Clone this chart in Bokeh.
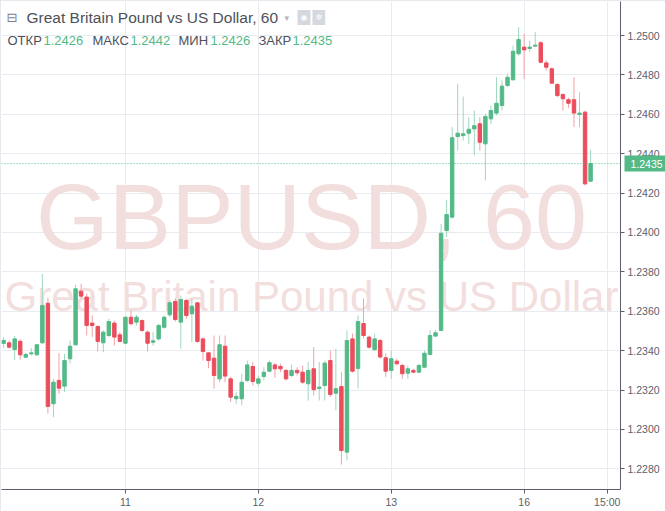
from bokeh.plotting import figure
from bokeh.models import (ColumnDataSource, FixedTicker, Label, Span, NumeralTickFormatter,
                          Range1d, LinearAxis)
from bokeh.embed import file_html
from bokeh.resources import INLINE

# ---------------- data (GBPUSD, 60 min) ----------------
bars = list(range(-22, 85))  # hourly bar index, 0 = day "11" 00:00

opens = [1.23437, 1.23440, 1.23406, 1.23448, 1.23367, 1.23384, 1.23379, 1.23440, 1.23641, 1.23131,
         1.23249, 1.23220, 1.23359, 1.23430, 1.23702, 1.23672, 1.23540, 1.23523, 1.23440, 1.23477,
         1.23540, 1.23481, 1.23438, 1.23570, 1.23545, 1.23553, 1.23494, 1.23443, 1.23460, 1.23519,
         1.23582, 1.23650, 1.23545, 1.23655, 1.23587, 1.23643, 1.23460, 1.23389, 1.23362, 1.23257,
         1.23423, 1.23257, 1.23156, 1.23156, 1.23249, 1.23320, 1.23235, 1.23269, 1.23296, 1.23328,
         1.23320, 1.23300, 1.23274, 1.23300, 1.23291, 1.23232, 1.23308, 1.23208, 1.23223, 1.23350,
         1.23184, 1.23218, 1.22885, 1.23460, 1.23310, 1.23538, 1.23469, 1.23405, 1.23452, 1.23364,
         1.23300, 1.23347, 1.23325, 1.23286, 1.23300, 1.23291, 1.23316, 1.23381, 1.23474, 1.23503,
         1.24010, 1.24078, 1.24487, 1.24492, 1.24504, 1.24526, 1.24552, 1.24450, 1.24577, 1.24606,
         1.24645, 1.24746, 1.24775, 1.24907, 1.24941, 1.24934, 1.24946, 1.24963, 1.24861, 1.24831,
         1.24751, 1.24700, 1.24674, 1.24674, 1.24599, 1.24611, 1.24260]
highs = [1.23469, 1.23452, 1.23474, 1.23457, 1.23389, 1.23413, 1.23435, 1.23790, 1.23669, 1.23257,
         1.23387, 1.23384, 1.23452, 1.23735, 1.23740, 1.23689, 1.23579, 1.23528, 1.23503, 1.23562,
         1.23553, 1.23494, 1.23575, 1.23604, 1.23582, 1.23558, 1.23503, 1.23494, 1.23537, 1.23579,
         1.23655, 1.23667, 1.23680, 1.23664, 1.23664, 1.23646, 1.23469, 1.23392, 1.23477, 1.23477,
         1.23477, 1.23266, 1.23189, 1.23283, 1.23350, 1.23342, 1.23274, 1.23316, 1.23350, 1.23337,
         1.23334, 1.23308, 1.23330, 1.23316, 1.23325, 1.23342, 1.23418, 1.23342, 1.23350, 1.23401,
         1.23410, 1.23291, 1.23503, 1.23487, 1.23579, 1.23665, 1.23477, 1.23486, 1.23460, 1.23386,
         1.23401, 1.23359, 1.23334, 1.23325, 1.23308, 1.23334, 1.23401, 1.23503, 1.23506, 1.24044,
         1.24166, 1.24535, 1.24755, 1.24690, 1.24585, 1.24619, 1.24585, 1.24603, 1.24645, 1.24788,
         1.24772, 1.24806, 1.24949, 1.25042, 1.25009, 1.24975, 1.25017, 1.24971, 1.24873, 1.24839,
         1.24758, 1.24707, 1.24684, 1.24788, 1.24712, 1.24619, 1.24420]
lows = [1.23413, 1.23411, 1.23354, 1.23355, 1.23362, 1.23376, 1.23376, 1.23435, 1.23080, 1.23062,
        1.23181, 1.23189, 1.23334, 1.23426, 1.23664, 1.23477, 1.23469, 1.23396, 1.23392, 1.23469,
        1.23426, 1.23443, 1.23433, 1.23528, 1.23528, 1.23494, 1.23396, 1.23426, 1.23452, 1.23511,
        1.23570, 1.23548, 1.23410, 1.23562, 1.23443, 1.23440, 1.23350, 1.23311, 1.23207, 1.23240,
        1.23240, 1.23139, 1.23131, 1.23122, 1.23240, 1.23223, 1.23218, 1.23249, 1.23291, 1.23262,
        1.23291, 1.23249, 1.23266, 1.23274, 1.23232, 1.23147, 1.23173, 1.23147, 1.23147, 1.23164,
        1.23097, 1.22822, 1.22843, 1.23289, 1.23208, 1.23462, 1.23410, 1.23401, 1.23359, 1.23266,
        1.23257, 1.23325, 1.23257, 1.23257, 1.23286, 1.23286, 1.23316, 1.23376, 1.23469, 1.23499,
        1.23976, 1.24071, 1.24416, 1.24467, 1.24450, 1.24391, 1.24416, 1.24264, 1.24552, 1.24594,
        1.24619, 1.24738, 1.24772, 1.24898, 1.24780, 1.24915, 1.24941, 1.24859, 1.24822, 1.24755,
        1.24687, 1.24619, 1.24633, 1.24535, 1.24535, 1.24239, 1.24260]
closes = [1.23452, 1.23418, 1.23460, 1.23379, 1.23381, 1.23389, 1.23430, 1.23629, 1.23117, 1.23240,
          1.23210, 1.23350, 1.23423, 1.23714, 1.23677, 1.23528, 1.23528, 1.23447, 1.23494, 1.23548,
          1.23469, 1.23447, 1.23570, 1.23537, 1.23570, 1.23503, 1.23438, 1.23450, 1.23528, 1.23570,
          1.23643, 1.23558, 1.23660, 1.23579, 1.23626, 1.23447, 1.23396, 1.23350, 1.23274, 1.23430,
          1.23271, 1.23164, 1.23168, 1.23240, 1.23328, 1.23244, 1.23257, 1.23291, 1.23339, 1.23308,
          1.23308, 1.23257, 1.23300, 1.23288, 1.23240, 1.23300, 1.23202, 1.23215, 1.23337, 1.23178,
          1.23207, 1.22893, 1.23452, 1.23296, 1.23548, 1.23477, 1.23418, 1.23460, 1.23368, 1.23296,
          1.23359, 1.23334, 1.23283, 1.23308, 1.23291, 1.23325, 1.23387, 1.23477, 1.23491, 1.23996,
          1.24091, 1.24481, 1.24504, 1.24501, 1.24524, 1.24542, 1.24458, 1.24589, 1.24619, 1.24656,
          1.24743, 1.24788, 1.24920, 1.24980, 1.24927, 1.24941, 1.24951, 1.24864, 1.24839, 1.24758,
          1.24695, 1.24679, 1.24656, 1.24606, 1.24606, 1.24247, 1.24350]

day_ticks = [0, 24, 48, 72, 87]
day_labels = ["11", "12", "13", "16", "15:00"]
price_ticks = [1.228, 1.230, 1.232, 1.234, 1.236, 1.238, 1.240, 1.242, 1.244, 1.246, 1.248, 1.250]

symbol = "GBPUSD"
interval = "60"
description = "Great Britain Pound vs US Dollar"
ohlc_names = ["ОТКР", "МАКС", "МИН", "ЗАКР"]

# ---------------- styling ----------------
UP, DOWN = "#53b987", "#eb4d5c"
UP_WICK, DOWN_WICK = "#9fd8bd", "#f2a0a8"
TXT = "#4e5159"
AX = "#5d606b"
WM = "#f3dede"
FONT = "Liberation Sans"

W, H = 665, 511
RB, BB = 44, 22
FW, FH = W - 1 - RB, H - 1 - BB   # frame 620 x 488

up = [c >= o for o, c in zip(opens, closes)]
src = ColumnDataSource(dict(
    x=bars,
    top=[max(o, c) for o, c in zip(opens, closes)],
    bottom=[min(o, c) for o, c in zip(opens, closes)],
    high=highs, low=lows,
    color=[UP if u else DOWN for u in up],
    wick=[UP_WICK if u else DOWN_WICK for u in up],
))

p = figure(width=W, height=H, output_backend="svg", toolbar_location=None,
           x_range=Range1d(-22.38, 89.4), y_range=Range1d(1.226954, 1.251726),
           y_axis_location="right", min_border_left=1, min_border_top=1,
           min_border_right=RB, min_border_bottom=BB)
p.background_fill_color = "white"
p.border_fill_color = "white"
p.outline_line_color = None
p.styles = {"outline": "1px solid #dfe2e8", "outline-offset": "-1px"}

# watermark
p.add_layout(Label(x=FW / 2, y=FH - 215, x_units="screen", y_units="screen",
                   text=f"{symbol}, {interval}", text_align="center", text_baseline="middle",
                   text_font=FONT, text_font_size="93.5px", text_color=WM, level="underlay"))
p.add_layout(Label(x=FW / 2, y=FH - 295, x_units="screen", y_units="screen",
                   text=description, text_align="center", text_baseline="middle",
                   text_font=FONT, text_font_size="42px", text_color=WM, level="underlay"))

# candles
p.segment(x0="x", y0="high", x1="x", y1="low", line_color="wick", line_width=1, source=src)
p.vbar(x="x", width=0.62, top="top", bottom="bottom", fill_color="color",
       line_color="color", line_width=1, source=src)

# last price line
last = closes[-1]
p.add_layout(Span(location=last, dimension="width", line_color=UP, line_dash="1 2", line_width=1))

# axes
yax = p.yaxis[0]
xax = p.xaxis[0]
yax.ticker = FixedTicker(ticks=price_ticks)
yax.formatter = NumeralTickFormatter(format="0.0000")
xax.ticker = FixedTicker(ticks=day_ticks)
xax.major_label_overrides = {t: l for t, l in zip(day_ticks, day_labels)}
for ax in (xax, yax):
    ax.axis_line_color = AX
    ax.major_tick_line_color = AX
    ax.major_tick_out = 4
    ax.major_tick_in = 0
    ax.minor_tick_line_color = None
    ax.major_label_text_font = FONT
    ax.major_label_text_font_size = "10.5px"
    ax.major_label_text_color = AX
yax.major_label_standoff = 3
xax.major_label_standoff = 2
p.xgrid.grid_line_color = "#e8ebf0"
p.ygrid.grid_line_color = "#e8ebf0"

# last price tag: a second right axis whose single thick tick forms the green box
tag = LinearAxis(ticker=FixedTicker(ticks=[last]), formatter=NumeralTickFormatter(format="0.0000"))
tag.axis_line_color = None
tag.minor_tick_line_color = None
tag.major_tick_line_color = UP
tag.major_tick_line_width = 16
tag.major_tick_in = 38
tag.major_tick_out = 5
tag.major_label_standoff = -37
tag.major_label_text_font = FONT
tag.major_label_text_font_size = "10.5px"
tag.major_label_text_color = "white"
p.add_layout(tag, "right")

# header
HY1, HY2 = FH - 16, FH - 39
p.add_layout(Label(x=5, y=HY1, x_units="screen", y_units="screen", text="⊟",
                   text_baseline="middle", text_font="DejaVu Sans", text_font_size="13px",
                   text_color="#7d8088", level="overlay"))
p.add_layout(Label(x=25, y=HY1, x_units="screen", y_units="screen",
                   text=f"{description}, {interval}", text_baseline="middle",
                   text_font=FONT, text_font_size="15.5px", text_color=TXT, level="overlay"))
p.add_layout(Label(x=283, y=HY1, x_units="screen", y_units="screen", text="▾",
                   text_baseline="middle", text_font="DejaVu Sans", text_font_size="9px",
                   text_color="#b0b3ba", level="overlay"))
for ix, glyph in ((296, "◉"), (311, "✲")):
    p.add_layout(Label(x=ix, y=HY1, x_units="screen", y_units="screen", text=glyph,
                       text_baseline="middle", text_font="DejaVu Sans", text_font_size="8px",
                       text_color="white", background_fill_color="#d5d8de", padding=3,
                       level="overlay"))

vals = [opens[-1], highs[-1], lows[-1], closes[-1]]
name_x = [6, 91, 177, 257]
val_x = [42, 129, 209, 291]
for nm, v, nx, vx in zip(ohlc_names, vals, name_x, val_x):
    p.add_layout(Label(x=nx, y=HY2, x_units="screen", y_units="screen", text=nm,
                       text_baseline="middle", text_font=FONT, text_font_size="13px",
                       text_color=TXT, level="overlay"))
    p.add_layout(Label(x=vx, y=HY2, x_units="screen", y_units="screen", text=f"{v:.4f}",
                       text_baseline="middle", text_font=FONT, text_font_size="13px",
                       text_color=UP, level="overlay"))

open("out.html", "w").write(file_html(p, INLINE))
